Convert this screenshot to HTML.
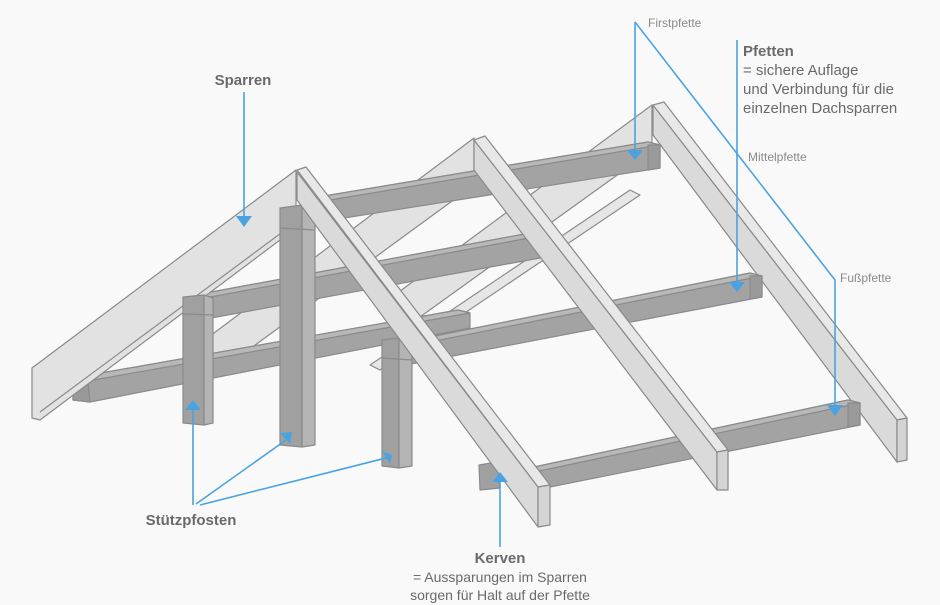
<!DOCTYPE html>
<html><head><meta charset="utf-8"><style>
html,body{margin:0;padding:0;background:#f9f9f9;}
svg{display:block}
text{font-family:"Liberation Sans",sans-serif;fill:#6a6a6a}
</style></head><body>
<svg width="940" height="605" viewBox="0 0 940 605" xmlns="http://www.w3.org/2000/svg">
<rect width="940" height="605" fill="#f9f9f9"/>
<g stroke="#8a8a8a" stroke-width="1.2" stroke-linejoin="round">
<!-- back left rafter -->
<polygon points="652,105 388,300 388,340 652,150" fill="#e2e2e2"/>
<!-- diagonal braces -->
<polygon points="460,175 470,180 230,350 220,345" fill="#e6e6e6"/>
<polygon points="420,195 430,200 250,330 240,325" fill="#e6e6e6"/>
<polygon points="630,190 640,195 380,370 370,365" fill="#e6e6e6"/>
<!-- middle left rafter -->
<polygon points="474,138 210,336 210,378 474,185" fill="#e2e2e2"/>
<!-- Firstpfette -->
<polygon points="300,200 648,142 660,145 660,168 300,225" fill="#a3a3a3"/>
<polygon points="300,200 648,142 660,145 312,203" fill="#b8b8b8"/>
<polygon points="648,145 660,145 660,168 648,170" fill="#9a9a9a"/>
<!-- back right rafter -->
<polygon points="653,105 897,420 897,462 653,135" fill="#dadada"/>
<polygon points="653,105 664,102 907,418 897,420" fill="#e8e8e8"/>
<polygon points="897,420 907,418 907,460 897,462" fill="#d4d4d4"/>
<!-- left Mittelpfette -->
<polygon points="195,295 530,233 540,236 540,258 200,320" fill="#a3a3a3"/>
<polygon points="195,295 530,233 540,236 205,298" fill="#b8b8b8"/>
<!-- right Mittelpfette -->
<polygon points="390,345 750,273 762,276 762,297 390,368" fill="#a3a3a3"/>
<polygon points="390,345 750,273 762,276 400,348" fill="#b8b8b8"/>
<polygon points="750,276 762,276 762,297 750,299" fill="#9a9a9a"/>
<!-- left Fusspfette -->
<polygon points="73,378 458,310 470,313 470,328 90,402 73,400" fill="#a3a3a3"/>
<polygon points="73,378 458,310 470,313 88,381" fill="#b8b8b8"/>
<polygon points="73,378 88,381 90,402 73,400" fill="#999"/>
<!-- right Fusspfette -->
<polygon points="520,470 848,400 860,403 860,425 520,493" fill="#a3a3a3"/>
<polygon points="520,470 848,400 860,403 530,473" fill="#b8b8b8"/>
<polygon points="848,403 860,403 860,425 848,427" fill="#9a9a9a"/>
<!-- middle right rafter -->
<polygon points="474,140 717,452 717,490 474,170" fill="#dadada"/>
<polygon points="474,140 485,136 728,450 717,452" fill="#e8e8e8"/>
<polygon points="717,452 728,450 728,490 717,490" fill="#d4d4d4"/>
<!-- front left rafter -->
<polygon points="32,368 296,170 296,228 40,420 32,418" fill="#e2e2e2"/>
<line x1="40" y1="412" x2="296" y2="222"/>
<!-- posts -->
<polygon points="183,297 204,295 204,425 183,423" fill="#a0a0a0"/>
<polygon points="204,295 213,298 213,423 204,425" fill="#b4b4b4"/>
<line x1="183" y1="314" x2="213" y2="315"/>
<polygon points="280,208 302,205 302,447 280,445" fill="#a0a0a0"/>
<polygon points="302,205 315,210 315,445 302,447" fill="#b4b4b4"/>
<line x1="280" y1="228" x2="315" y2="230"/>
<polygon points="382,340 399,338 399,468 382,466" fill="#a0a0a0"/>
<polygon points="399,338 412,342 412,466 399,468" fill="#b4b4b4"/>
<line x1="382" y1="358" x2="412" y2="360"/>
<!-- Kerve block -->
<polygon points="479,465 497,462 500,488 480,490" fill="#a0a0a0"/>
<!-- front right rafter -->
<polygon points="297,172 538,487 538,527 297,200" fill="#dadada"/>
<polygon points="297,170 306,167 550,485 538,487" fill="#e8e8e8"/>
<polygon points="538,487 550,485 550,525 538,527" fill="#d4d4d4"/>
</g>
<!-- blue connectors -->
<g stroke="#4aa3e0" stroke-width="1.6" fill="none">
<line x1="244" y1="92" x2="244" y2="218"/>
<line x1="635" y1="22" x2="635" y2="150"/>
<polyline points="635,22 835,280 835,405"/>
<line x1="737" y1="40" x2="737" y2="282"/>
<line x1="193" y1="505" x2="193" y2="408"/>
<line x1="196" y1="504" x2="286" y2="440"/>
<line x1="200" y1="505" x2="386" y2="458"/>
<line x1="500" y1="547" x2="500" y2="478"/>
</g>
<g fill="#4aa3e0">
<polygon points="236,216 252,216 244,227"/>
<polygon points="627,150 643,150 635,160"/>
<polygon points="729,282 745,282 737,292"/>
<polygon points="827,405 843,405 835,416"/>
<polygon points="185,410 201,410 193,400"/>
<polygon points="280,433 292,432 290,444"/>
<polygon points="382,451 392,455 390,464"/>
<polygon points="492,482 508,482 500,472"/>
</g>
<!-- labels -->
<text x="243" y="85" font-size="15" font-weight="bold" text-anchor="middle">Sparren</text>
<text x="648" y="27" font-size="12" style="fill:#8a8a8a">Firstpfette</text>
<text x="743" y="56" font-size="15" font-weight="bold">Pfetten</text>
<text x="743" y="75" font-size="15">= sichere Auflage</text>
<text x="743" y="94" font-size="15">und Verbindung für die</text>
<text x="743" y="113" font-size="15">einzelnen Dachsparren</text>
<text x="748" y="161" font-size="12" style="fill:#8a8a8a">Mittelpfette</text>
<text x="840" y="282" font-size="12" style="fill:#8a8a8a">Fußpfette</text>
<text x="191" y="525" font-size="15" font-weight="bold" text-anchor="middle">Stützpfosten</text>
<text x="500" y="563" font-size="15" font-weight="bold" text-anchor="middle">Kerven</text>
<text x="500" y="582" font-size="14" text-anchor="middle">= Aussparungen im Sparren</text>
<text x="500" y="600" font-size="14" text-anchor="middle">sorgen für Halt auf der Pfette</text>
</svg>
</body></html>
